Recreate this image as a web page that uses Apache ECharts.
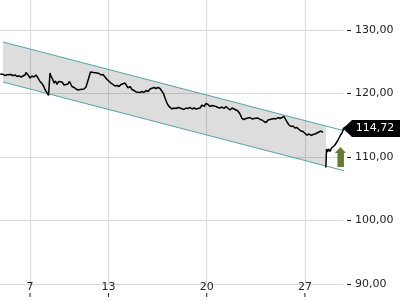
<!DOCTYPE html>
<html><head><meta charset="utf-8">
<script src="https://cdn.jsdelivr.net/npm/echarts@6/dist/echarts.min.js"></script>
<style>html,body{margin:0;padding:0;background:#fff}#c{width:400px;height:300px}</style>
</head><body><div id="c"></div>
<script>
// time axis in trading days from the 7th (7 -> 0, 13 -> 4, 20 -> 9, 27 -> 14)
const priceT = [
-1.52,-1.375,-1.273,-1.171,-1.070,-0.968,-0.866,-0.764,-0.662,-0.560,
-0.458,-0.357,-0.255,-0.204,-0.153,-0.076,0,0.102,0.204,0.306,
0.407,0.509,0.611,0.688,0.764,0.840,0.891,0.942,0.983,1.019,
1.070,1.146,1.222,1.299,1.375,1.452,1.528,1.630,1.732,1.833,
1.935,2.012,2.063,2.139,2.241,2.343,2.445,2.547,2.648,2.750,
2.852,2.929,3.005,3.081,3.158,3.234,3.311,3.412,3.514,3.616,
3.718,3.820,3.922,4.023,4.125,4.227,4.329,4.431,4.533,4.635,
4.736,4.838,4.915,4.991,5.093,5.195,5.297,5.399,5.500,5.602,
5.704,5.806,5.908,6.010,6.112,6.213,6.315,6.417,6.519,6.621,
6.722,6.799,6.876,6.952,7.028,7.130,7.232,7.334,7.436,7.538,
7.640,7.741,7.843,7.945,8.047,8.149,8.251,8.353,8.455,8.556,
8.658,8.760,8.862,8.964,9.066,9.168,9.270,9.371,9.473,9.575,
9.677,9.779,9.881,9.983,10.084,10.186,10.288,10.390,10.492,10.594,
10.695,10.797,10.899,11.001,11.103,11.205,11.307,11.409,11.510,11.612,
11.714,11.816,11.918,12.020,12.122,12.224,12.325,12.427,12.529,12.631,
12.733,12.835,12.937,13.013,13.089,13.191,13.293,13.395,13.497,13.599,
13.701,13.803,13.905,14.006,14.108,14.210,14.312,14.414,14.516,14.618,
14.719,14.821,14.872,14.923,15.000,15.066,15.101,15.152,15.203,15.279,
15.356,15.432,15.508,15.585,15.661,15.737,15.814,15.890,15.966,16.043
];
const priceV = [
123.07,123.02,122.83,122.94,122.76,122.99,122.80,122.94,122.68,122.79,
122.60,122.68,122.91,123.31,123.07,122.83,122.44,122.76,122.60,122.91,
122.44,121.89,121.57,121.18,120.63,120.24,120.00,119.69,119.92,123.23,
122.76,122.28,121.65,121.97,121.42,121.89,121.65,121.81,121.34,121.57,
121.50,121.89,122.05,121.10,120.95,120.71,120.55,120.63,120.39,120.71,
121.02,121.81,122.60,123.39,123.62,123.31,123.54,123.23,123.15,122.91,
122.99,122.60,122.20,121.89,121.65,121.42,121.18,121.26,121.10,121.42,
121.50,121.65,121.50,120.87,121.10,120.63,120.47,120.24,120.08,120.16,
120.32,120.16,120.47,120.32,120.71,120.79,120.95,120.79,120.95,120.79,
120.55,120.00,119.29,118.66,118.19,117.80,117.56,117.72,117.64,117.80,
117.72,117.95,117.48,117.72,117.64,117.80,117.56,117.72,117.56,117.80,
117.72,118.19,117.95,118.43,118.27,117.95,118.11,117.80,117.95,117.80,
117.72,117.87,117.64,117.95,117.72,117.40,117.72,117.56,117.40,117.24,
116.77,116.06,115.91,116.06,116.14,116.22,115.98,116.06,115.98,116.14,
115.91,115.83,115.59,115.43,115.83,115.91,115.98,116.06,115.98,116.22,
116.06,116.22,116.38,116.22,115.51,115.04,114.80,114.88,114.57,114.65,
114.33,114.09,114.02,113.70,113.46,113.62,113.39,113.54,113.62,113.78,
113.70,114.09,114.25,113.86,null,108.35,111.26,110.79,111.26,110.87,
111.42,111.18,111.81,111.89,112.52,112.76,113.46,113.78,114.49,114.72
];
const channelT = [-1.375, 16.043];
const channelUpper = [128.11, 114.09];
const channelLower = [121.81, 107.80];
const shadeT = [-1.375, 15.076];
const shadeUpper = [128.11, 114.88];
const shadeLower = [121.81, 108.58];
const tickDays = [0, 4, 9, 14];
const tickLabels = ['7', '13', '20', '27'];
const xMin = -1.528, xMax = 15.94;
const yMin = 90, yMax = 136, yStep = 10;
const lastPrice = 114.72;
const signalT = [15.81];
const signalV = [110.0];

const FONT = 'DejaVu Sans';
const fmt = v => v.toFixed(2).replace('.', ',');
const chart = echarts.init(document.getElementById('c'), null, {renderer: 'canvas'});

chart.setOption({
  animation: false,
  backgroundColor: '#fff',
  grid: {left: 0, right: 57, top: -8.1, bottom: 16, containLabel: false, outerBoundsMode: 'none'},
  xAxis: [{
    type: 'value', min: xMin, max: xMax,
    axisLine: {show: false, onZero: false},
    axisTick: {show: false, customValues: tickDays},
    axisLabel: {customValues: tickDays, margin: -2, color: '#222', fontSize: 11, fontFamily: FONT,
      formatter: v => tickLabels[tickDays.indexOf(v)]},
    splitLine: {show: true, lineStyle: {color: '#dadada', width: 1}}
  }],
  yAxis: [{
    type: 'value', position: 'right', min: yMin, max: yMax, interval: yStep,
    axisLine: {show: false, onZero: false}, axisTick: {show: false},
    axisLabel: {margin: 12, color: '#222', fontSize: 11, fontFamily: FONT, showMaxLabel: false,
      formatter: v => (v % yStep === 0 ? fmt(v) : '')},
    splitLine: {show: true, lineStyle: {color: '#dadada', width: 1}}
  }, {
    type: 'value', position: 'right', offset: 4, min: yMin, max: yMax, interval: yStep,
    axisLine: {show: false, onZero: false},
    axisTick: {show: true, length: 4, lineStyle: {color: '#222'}},
    axisLabel: {show: false}, splitLine: {show: false}
  }],
  series: [{
    type: 'custom', silent: true, z: 1,
    data: shadeT.map((t, i) => [t, shadeLower[i]]),
    renderItem: (params, api) => {
      if (params.dataIndex !== 0) return null;
      const lo = shadeT.map((t, i) => api.coord([t, shadeLower[i]]));
      const hi = shadeT.map((t, i) => api.coord([t, shadeUpper[i]])).reverse();
      return {type: 'polygon', shape: {points: lo.concat(hi)}, style: {fill: 'rgba(0,0,0,0.135)'}};
    }
  }, {
    type: 'line', silent: true, z: 2, clip: false, symbol: 'none',
    data: channelT.map((t, i) => [t, channelUpper[i]]),
    lineStyle: {color: '#56a0a8', width: 1}
  }, {
    type: 'line', silent: true, z: 2, clip: false, symbol: 'none',
    data: channelT.map((t, i) => [t, channelLower[i]]),
    lineStyle: {color: '#56a0a8', width: 1}
  }, {
    type: 'line', silent: true, z: 3, clip: false, symbol: 'none', connectNulls: false,
    data: priceT.map((t, i) => [t, priceV[i] === null ? '-' : priceV[i]]),
    lineStyle: {color: '#000', width: 1.5},
    markPoint: {
      silent: true,
      symbol: 'path://M0,8.5L9,0L60,0L60,17L9,17Z',
      symbolSize: [60, 17],
      symbolKeepAspect: false,
      symbolOffset: [30, 1.5],
      itemStyle: {color: '#000'},
      label: {show: true, position: 'inside', offset: [2, 0], color: '#fff', fontSize: 11, fontFamily: FONT,
        formatter: () => fmt(lastPrice)},
      data: [{coord: [xMax, lastPrice], value: lastPrice}]
    }
  }, {
    // x-axis tick marks drawn below the day labels
    type: 'scatter', silent: true, z: 4, clip: false,
    symbol: 'rect', symbolSize: [1, 4], symbolOffset: [0, 11],
    itemStyle: {color: '#222', opacity: 1},
    data: tickDays.map(d => [d, yMin])
  }, {
    type: 'scatter', silent: true, z: 4,
    symbol: 'path://M5.5,0L11,6L9,6L9,20L2.5,20L2.5,6L0,6Z',
    symbolSize: [11, 20],
    itemStyle: {color: '#667a34', opacity: 1},
    data: signalT.map((t, i) => [t, signalV[i]])
  }]
});
</script>
</body></html>
